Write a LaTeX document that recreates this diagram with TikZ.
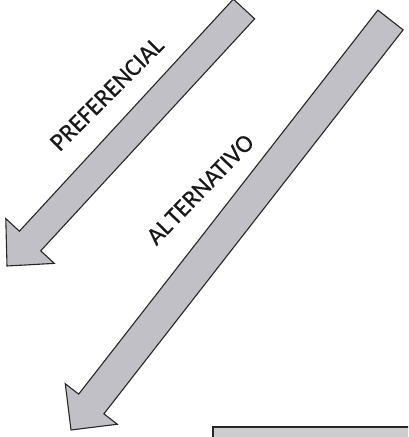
\documentclass[tikz,border=0pt]{standalone}
\usepackage{fontspec}
\setmainfont{Carlito}
\usetikzlibrary{calc}
\definecolor{arrowgray}{RGB}{192,192,198}
\definecolor{boxgray}{RGB}{205,205,205}
\begin{document}
\begin{tikzpicture}[x=1pt,y=-1pt,
  blockarrow/.style={fill=arrowgray, draw=black!85, line width=1.1pt, line join=miter},
  arrowlabel/.style={font=\fontsize{25}{25}\selectfont\addfontfeature{FakeBold=0.4}, inner sep=0pt, text=black!90, anchor=base}]
\useasboundingbox (0,0) rectangle (408,437);
\clip (0,0) rectangle (408,437);

% arrow 1 (PREFERENCIAL)
\coordinate (t1) at (244,9);
\coordinate (p1) at (7,266);
\coordinate (b1) at ($(p1)!34pt!(t1)$);
\draw[blockarrow] ($(t1)!14.5pt!90:(p1)$) -- ($(b1)!14.5pt!90:(p1)$) -- ($(b1)!33pt!90:(p1)$)
  -- (p1) -- ($(b1)!33pt!-90:(p1)$) -- ($(b1)!14.5pt!-90:(p1)$) -- ($(t1)!14.5pt!-90:(p1)$) -- cycle;

% arrow 2 (ALTERNATIVO)
\coordinate (t2) at (390.5,20);
\coordinate (p2) at (71,430);
\coordinate (b2) at ($(p2)!33pt!(t2)$);
\draw[blockarrow] ($(t2)!16pt!90:(p2)$) -- ($(b2)!16pt!90:(p2)$) -- ($(b2)!33pt!90:(p2)$)
  -- (p2) -- ($(b2)!33pt!-90:(p2)$) -- ($(b2)!16pt!-90:(p2)$) -- ($(t2)!16pt!-90:(p2)$) -- cycle;

% bottom box (cut off)
\fill[boxgray] (213,427) rectangle (412,441);
\draw[black!85, line width=1.1pt] (213,441) -- (213,427) -- (412,427);

% labels
\node[arrowlabel, rotate=45] (pref) at (112.5,99.5) {PREFERENCIAL};
\node[arrowlabel, rotate=46] (alt) at (206,195) {AL\kern2pt TERNATIVO};
\end{tikzpicture}
\end{document}
